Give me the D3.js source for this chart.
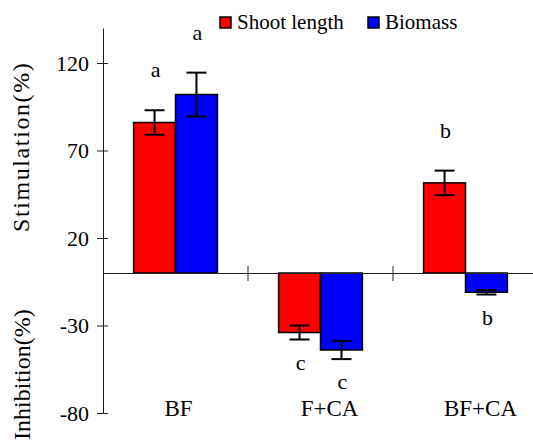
<!DOCTYPE html>
<html>
<head>
<meta charset="utf-8">
<script src="https://cdn.jsdelivr.net/npm/d3@7"></script>
<style>
  body { margin: 0; font-family: "Times New Roman", "Liberation Serif", serif; }
</style>
</head>
<body>
<svg id="plot" width="533" height="441" font-family="Times New Roman, Liberation Serif, serif"></svg>
<script>
// data
const categories = ["BF", "F+CA", "BF+CA"];
const seriesNames = ["Shoot length", "Biomass"];
const seriesColors = ["#ff0000", "#0000ff"];
const shootLength = [86, -34, 51.5];
const shootLengthErr = [7, 4, 7];
const biomass = [102, -44, -11];
const biomassErr = [12.5, 5.2, 1.3];
const shootLetters = ["a", "c", "b"];
const biomassLetters = ["a", "c", "b"];
const yTicks = [120, 70, 20, -30, -80];

const FONT = "Times New Roman, Liberation Serif, serif";
const svg = d3.select("#plot");

const y = d3.scaleLinear().domain([-80, 140]).range([413, 28]);
const x0 = d3.scaleBand().domain(categories).range([103, 538]).padding(0);
const x1 = d3.scaleBand().domain(seriesNames).range([0, x0.bandwidth()]).paddingInner(0).paddingOuter(0.73);

const rows = [];
categories.forEach((c, i) => {
    rows.push({ cat: c, s: 0, v: shootLength[i], e: shootLengthErr[i], l: shootLetters[i] });
    rows.push({ cat: c, s: 1, v: biomass[i], e: biomassErr[i], l: biomassLetters[i] });
});

// bars
svg.append("g").selectAll("rect")
    .data(rows)
    .enter()
    .append("rect")
    .attr("x", d => x0(d.cat) + x1(seriesNames[d.s]))
    .attr("y", d => y(Math.max(0, d.v)))
    .attr("width", x1.bandwidth())
    .attr("height", d => Math.abs(y(d.v) - y(0)))
    .attr("fill", d => seriesColors[d.s])
    .attr("stroke", "#000")
    .attr("stroke-width", 1.5);

// error bars
const eb = svg.append("g").attr("stroke", "#000").attr("stroke-width", 2);
rows.forEach(d => {
    const cx = x0(d.cat) + x1(seriesNames[d.s]) + x1.bandwidth() / 2;
    const top = y(d.v + d.e), bot = y(d.v - d.e);
    eb.append("line").attr("x1", cx).attr("x2", cx).attr("y1", top).attr("y2", bot);
    eb.append("line").attr("x1", cx - 10).attr("x2", cx + 10).attr("y1", top).attr("y2", top);
    eb.append("line").attr("x1", cx - 10).attr("x2", cx + 10).attr("y1", bot).attr("y2", bot);
});

// significance letters
svg.append("g").selectAll("text")
    .data(rows)
    .enter()
    .append("text")
    .attr("x", d => x0(d.cat) + x1(seriesNames[d.s]) + x1.bandwidth() / 2 + 1)
    .attr("y", d => d.v >= 0 ? y(d.v + d.e) - 33 : y(d.v - d.e) + 30)
    .attr("text-anchor", "middle")
    .attr("font-family", FONT)
    .attr("font-size", 22)
    .text(d => d.l);

// y axis
const yAxis = svg.append("g")
    .attr("transform", "translate(103,0)")
    .call(d3.axisLeft(y).tickValues(yTicks).tickFormat(d => String(d)).tickSize(6).tickSizeOuter(0));
yAxis.attr("font-family", FONT).attr("font-size", 22);
yAxis.select(".domain").attr("stroke", "#222");
yAxis.selectAll(".tick line").attr("stroke", "#222").attr("x2", 5).attr("x1", -6);
yAxis.selectAll(".tick text").attr("x", -14);

// zero line with category ticks
const xAxis = svg.append("g")
    .attr("transform", `translate(0,${y(0)})`)
    .call(d3.axisBottom(x0).tickValues([]).tickSizeOuter(0));
xAxis.select(".domain").attr("stroke", "#222");
xAxis.selectAll(".sep")
    .data(categories.slice(1))
    .enter()
    .append("line")
    .attr("x1", d => x0(d)).attr("x2", d => x0(d))
    .attr("y1", -7).attr("y2", 8)
    .attr("stroke", "#222");

// category labels
svg.append("g").selectAll("text")
    .data(categories)
    .enter()
    .append("text")
    .attr("x", (d, i) => x0(d) + x0.bandwidth() / 2 + 3 + i * 6)
    .attr("y", 416)
    .attr("text-anchor", "middle")
    .attr("font-family", FONT)
    .attr("font-size", 23)
    .text(d => d);

// axis titles
svg.append("text")
    .attr("transform", "translate(29,232) rotate(-90)")
    .attr("font-family", FONT)
    .attr("font-size", 24)
    .attr("letter-spacing", 1.6)
    .text("Stimulation(%)");
svg.append("text")
    .attr("transform", "translate(30,440) rotate(-90)")
    .attr("font-family", FONT)
    .attr("font-size", 24)
    .text("Inhibition(%)");

// legend
const legendX = [220, 368];
const legend = svg.append("g").selectAll("g")
    .data(seriesNames)
    .enter()
    .append("g")
    .attr("transform", (d, i) => `translate(${legendX[i]},17)`);
legend.append("rect")
    .attr("width", 11).attr("height", 11)
    .attr("fill", (d, i) => seriesColors[i])
    .attr("stroke", "#000").attr("stroke-width", 1.5);
legend.append("text")
    .attr("x", 17).attr("y", 12)
    .attr("font-family", FONT)
    .attr("font-size", 21)
    .text(d => d);
</script>
</body>
</html>
